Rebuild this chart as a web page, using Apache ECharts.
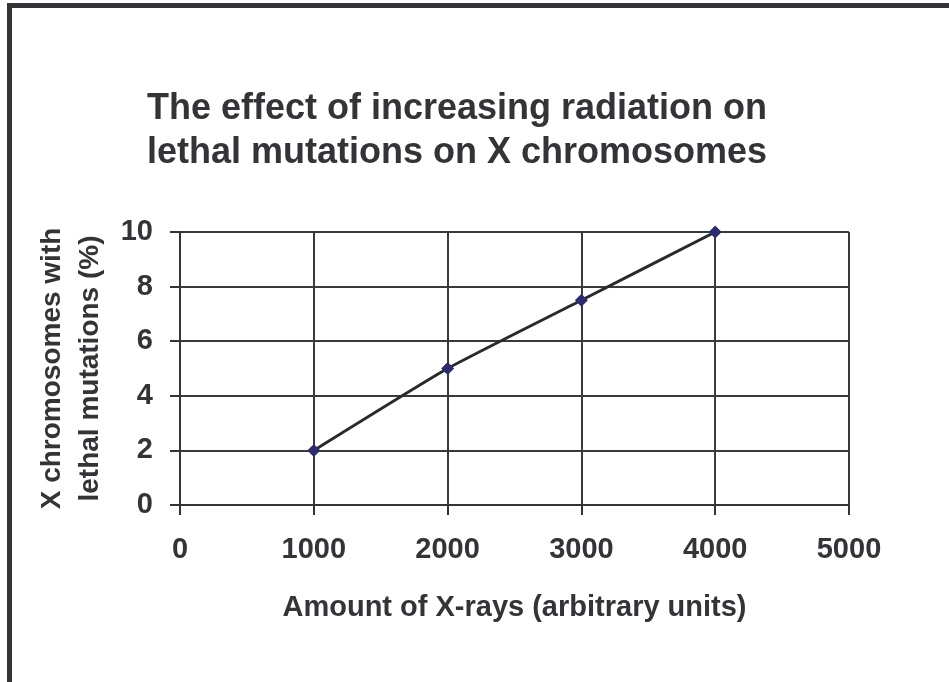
<!DOCTYPE html>
<html>
<head>
<meta charset="utf-8">
<script src="https://cdn.jsdelivr.net/npm/echarts@6/dist/echarts.min.js"></script>
<style>
  html, body { margin: 0; padding: 0; background: #fff; }
  #chart { width: 949px; height: 682px; }
</style>
</head>
<body>
<div id="chart"></div>
<script>
// radiation vs lethal mutations
var xrays = [1000, 2000, 3000, 4000];
var mutations = [2, 5, 7.5, 10];

var points = [];
for (var i = 0; i < xrays.length; i++) {
    points.push([xrays[i], mutations[i]]);
}

var dom = document.getElementById('chart');
var myChart = echarts.init(dom, null, { renderer: 'canvas' });

var textColor = '#333338';
var font = 'Liberation Sans, Arial, sans-serif';

var option = {
    animation: false,
    backgroundColor: '#fff',
    graphic: [
        {
            type: 'rect',
            shape: { x: 9.5, y: 5.5, width: 2000, height: 2000 },
            style: { fill: 'none', stroke: '#333338', lineWidth: 5 },
            silent: true
        }
    ],
    title: {
        text: 'The effect of increasing radiation on\nlethal mutations on X chromosomes',
        left: 452,
        top: 82,
        textAlign: 'center',
        textStyle: {
            fontFamily: font,
            fontSize: 36,
            fontWeight: 'bold',
            color: textColor,
            lineHeight: 44
        }
    },
    grid: {
        left: 180,
        right: 100,
        top: 232,
        bottom: 177
    },
    xAxis: {
        type: 'value',
        min: 0,
        max: 5000,
        interval: 1000,
        name: 'Amount of X-rays (arbitrary units)',
        nameLocation: 'middle',
        nameGap: 88,
        nameTextStyle: { fontFamily: font, fontSize: 29, fontWeight: 'bold', color: textColor },
        axisLine: { show: true, lineStyle: { color: '#333338', width: 2 } },
        axisTick: { show: true, inside: false, length: 10, lineStyle: { color: '#333338', width: 2 } },
        axisLabel: {
            margin: 30, fontFamily: font, fontSize: 29, fontWeight: 'bold', color: textColor,
            formatter: function (v) { return String(v); }
        },
        splitLine: { show: true, lineStyle: { color: '#3a3a3e', width: 2 } }
    },
    yAxis: {
        type: 'value',
        min: 0,
        max: 10,
        interval: 2,
        name: 'X chromosomes with\nlethal mutations (%)',
        nameLocation: 'middle',
        nameRotate: 90,
        nameGap: 71,
        nameTextStyle: { fontFamily: font, fontSize: 28, fontWeight: 'bold', color: textColor, lineHeight: 38 },
        axisLine: { show: true, lineStyle: { color: '#333338', width: 2 } },
        axisTick: { show: true, inside: false, length: 10, lineStyle: { color: '#333338', width: 2 } },
        axisLabel: { margin: 27, fontFamily: font, fontSize: 29, fontWeight: 'bold', color: textColor },
        splitLine: { show: true, lineStyle: { color: '#3a3a3e', width: 2 } }
    },
    series: [
        {
            type: 'line',
            data: points,
            smooth: 0.15,
            symbol: 'diamond',
            symbolSize: 13,
            itemStyle: { color: '#2d2d6b' },
            lineStyle: { color: '#2a2a2e', width: 3 }
        }
    ]
};

myChart.setOption(option);
window.addEventListener('resize', myChart.resize);
</script>
</body>
</html>
